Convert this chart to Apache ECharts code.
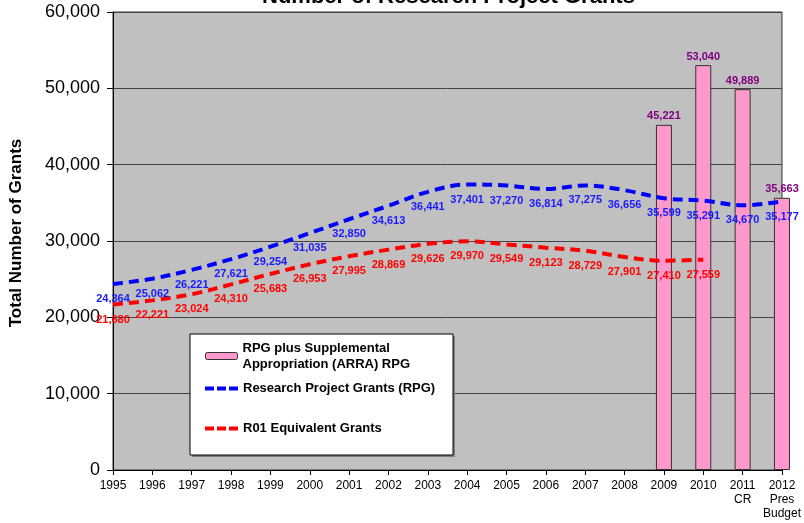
<!DOCTYPE html>
<html>
<head>
<meta charset="utf-8">
<script src="https://cdn.jsdelivr.net/npm/echarts@6/dist/echarts.min.js"></script>
<style>html,body{margin:0;padding:0;background:#fff;}#c{width:804px;height:523px;}</style>
</head>
<body>
<div id="c"></div>
<script>
var categories = ['1995','1996','1997','1998','1999','2000','2001','2002','2003','2004','2005','2006','2007','2008','2009','2010','2011\nCR','2012\nPres\nBudget'];
var arraValues = [null,null,null,null,null,null,null,null,null,null,null,null,null,null,45221,53040,49889,35663];
var rpgValues = [24364,25062,26221,27621,29254,31035,32850,34613,36441,37401,37270,36814,37275,36656,35599,35291,34670,35177];
var r01Values = [21680,22221,23024,24310,25683,26953,27995,28869,29626,29970,29549,29123,28729,27901,27410,27559,null,null];
var yTicks = [0,10000,20000,30000,40000,50000,60000];

var FONT = '"Liberation Sans", Arial, sans-serif';
var fmt = function(v){ return Number(v).toLocaleString('en-US'); };
var dashIcon = 'path://M0,0H9V4H0Z M12,0H21V4H12Z M24,0H33V4H24Z';

var chart = echarts.init(document.getElementById('c'), null, {renderer:'canvas'});
chart.setOption({
  animation: false,
  backgroundColor: '#ffffff',
  title: {
    text: 'Number of Research Project Grants',
    left: 257, top: -19,
    textStyle: {fontFamily: FONT, fontSize: 22, fontWeight: 'bold', color: '#000'}
  },
  grid: {left: 112, right: 21, top: 12, bottom: 53, show: true, backgroundColor: '#c0c0c0', borderColor: '#333', borderWidth: 1},
  graphic: [{
    type: 'rect', shape: {x: 192, y: 336, width: 263, height: 121}, style: {fill: '#808080'}, z: 90
  },{
    type: 'rect', shape: {x: 190, y: 334, width: 263, height: 121}, style: {fill: '#ffffff', stroke: '#000', lineWidth: 1}, z: 91
  }],
  legend: [{
    data: [{name: 'RPG plus Supplemental\nAppropriation (ARRA) RPG', itemStyle: {color: '#ff99cc', borderColor: '#333', borderWidth: 1}}],
    left: 205, top: 340, itemWidth: 32, itemHeight: 7, itemGap: 0, z: 95, padding: 0,
    selectedMode: false,
    textStyle: {fontFamily: FONT, fontSize: 13, fontWeight: 'bold', color: '#000', lineHeight: 16}
  },{
    data: [{name: 'Research Project Grants (RPG)', icon: dashIcon, itemStyle: {color: '#0000ff', opacity: 1}}],
    left: 205, top: 382, itemWidth: 33, itemHeight: 4, z: 95, padding: 0,
    selectedMode: false,
    textStyle: {fontFamily: FONT, fontSize: 13, fontWeight: 'bold', color: '#000'}
  },{
    data: [{name: 'R01 Equivalent Grants', icon: dashIcon, itemStyle: {color: '#ff0000', opacity: 1}}],
    left: 205, top: 422, itemWidth: 33, itemHeight: 4, z: 95, padding: 0,
    selectedMode: false,
    textStyle: {fontFamily: FONT, fontSize: 13, fontWeight: 'bold', color: '#000'}
  }],
  xAxis: {
    type: 'category', data: categories, boundaryGap: false,
    axisLine: {lineStyle: {color: '#000', width: 1}},
    axisTick: {show: true, alignWithLabel: true, length: 5, lineStyle: {color: '#000'}},
    axisLabel: {fontFamily: FONT, fontSize: 12, color: '#000', margin: 9, lineHeight: 14, interval: 0},
    splitLine: {show: false}
  },
  yAxis: {
    type: 'value', min: 0, max: 60000, interval: 10000,
    name: 'Total Number of Grants', nameLocation: 'middle', nameGap: 88, nameRotate: 90,
    nameTextStyle: {fontFamily: FONT, fontSize: 17, fontWeight: 'bold', color: '#000', padding: [0, 0, 0, 16]},
    axisLine: {show: true, lineStyle: {color: '#000', width: 1}},
    axisTick: {show: true, length: 6, lineStyle: {color: '#000'}},
    axisLabel: {fontFamily: FONT, fontSize: 18, color: '#000', margin: 13, formatter: function(v){ return fmt(v); }},
    splitLine: {show: true, lineStyle: {color: '#444', width: 1}}
  },
  series: [{
    name: 'RPG plus Supplemental\nAppropriation (ARRA) RPG',
    type: 'bar', data: arraValues, barWidth: 16, clip: true,
    itemStyle: {color: '#ff99cc', borderColor: '#333', borderWidth: 1},
    label: {show: true, position: 'top', distance: 3, fontFamily: FONT, fontSize: 11, fontWeight: 'bold', color: '#800080', formatter: function(p){ return fmt(p.value); }},
    z: 2
  },{
    name: 'Research Project Grants (RPG)',
    type: 'line', data: rpgValues, smooth: 0.35, connectNulls: false,
    symbol: 'circle', symbolSize: 1, showSymbol: true,
    itemStyle: {color: 'rgba(0,0,255,0)'},
    lineStyle: {color: '#0000ff', width: 4, type: [10, 6]},
    color: '#0000ff',
    label: {show: true, position: 'bottom', distance: 9, fontFamily: FONT, fontSize: 11, fontWeight: 'bold', color: '#1a1aff', formatter: function(p){ return fmt(p.value); }},
    z: 3
  },{
    name: 'R01 Equivalent Grants',
    type: 'line', data: r01Values, smooth: 0.35,
    symbol: 'circle', symbolSize: 1, showSymbol: true,
    itemStyle: {color: 'rgba(255,0,0,0)'},
    lineStyle: {color: '#ff0000', width: 4, type: [10, 6]},
    color: '#ff0000',
    label: {show: true, position: 'bottom', distance: 9, fontFamily: FONT, fontSize: 11, fontWeight: 'bold', color: '#ff0000', formatter: function(p){ return fmt(p.value); }},
    z: 3
  }]
});
</script>
</body>
</html>
